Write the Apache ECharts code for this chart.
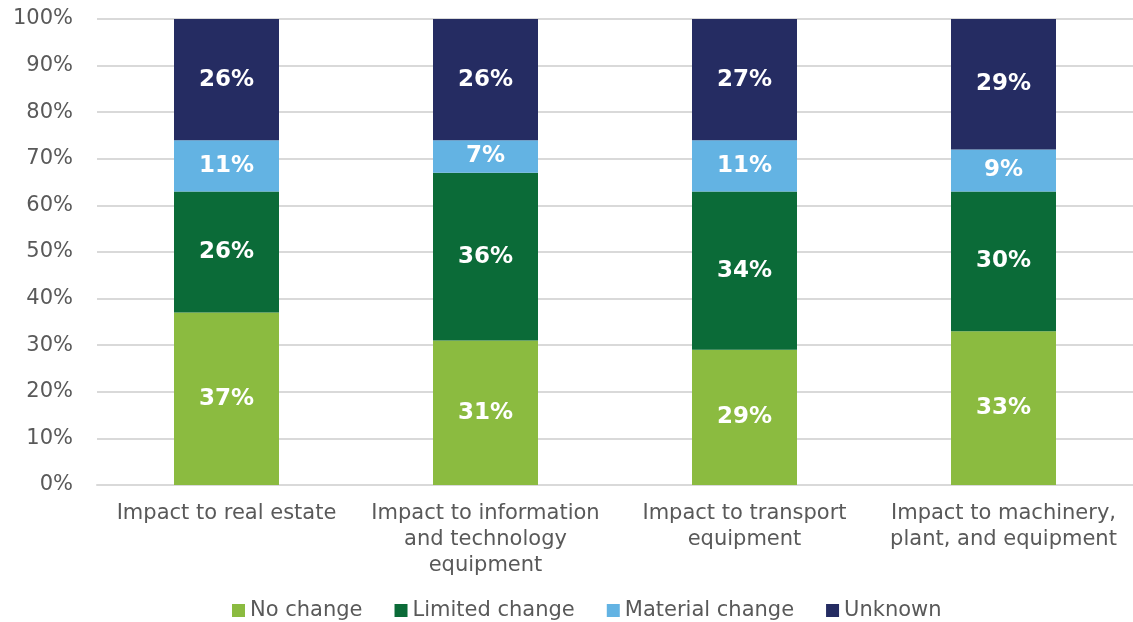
<!DOCTYPE html>
<html>
<head>
<meta charset="utf-8">
<script src="https://cdn.jsdelivr.net/npm/echarts@6/dist/echarts.min.js"></script>
<style>
  html, body { margin: 0; padding: 0; background: #fff; }
  #chart { width: 1133px; height: 622px; }
</style>
</head>
<body>
<div id="chart"></div>
<script>
// Asset categories (x axis)
const categories = [
  'Impact to real estate',
  'Impact to information\nand technology\nequipment',
  'Impact to transport\nequipment',
  'Impact to machinery,\nplant, and equipment'
];
// Share of respondents per impact level, in percent
const noChange = [37, 31, 29, 33];
const limitedChange = [26, 36, 34, 30];
const materialChange = [11, 7, 11, 9];
const unknown = [26, 26, 27, 29];

const seriesNames = ['No change', 'Limited change', 'Material change', 'Unknown'];
const seriesData = [noChange, limitedChange, materialChange, unknown];
const colors = ['#8BBB40', '#0B6B38', '#63B3E3', '#252C62'];

const font = '"DejaVu Sans", Verdana, sans-serif';

const chart = echarts.init(document.getElementById('chart'), null, { renderer: 'canvas' });
chart.setOption({
  animation: false,
  textStyle: { fontFamily: font },
  color: colors,
  grid: { left: 97, right: -13, top: 19, bottom: 137, containLabel: false },
  legend: {
    top: 595,
    left: 227,
    itemWidth: 13,
    itemHeight: 13,
    itemGap: 32,
    icon: 'rect',
    textStyle: { fontFamily: font, fontSize: 21, color: '#595959', padding: [0, 0, 0, 0] },
    data: seriesNames
  },
  xAxis: {
    type: 'category',
    data: categories,
    axisLine: { lineStyle: { color: '#D9D9D9', width: 2 } },
    axisTick: { show: false },
    axisLabel: {
      fontFamily: font, fontSize: 21, color: '#595959',
      lineHeight: 26, margin: 16, interval: 0
    }
  },
  yAxis: {
    type: 'value',
    min: 0, max: 100, interval: 10,
    axisLine: { show: false },
    axisTick: { show: false },
    splitLine: { lineStyle: { color: '#D9D9D9', width: 2 } },
    axisLabel: {
      fontFamily: font, fontSize: 21, color: '#595959', margin: 24,
      formatter: v => v + '%'
    }
  },
  series: seriesData.map((d, i) => ({
    name: seriesNames[i],
    type: 'bar',
    stack: 'total',
    barWidth: 105,
    clip: true,
    data: d,
    itemStyle: { color: colors[i] },
    label: {
      show: true,
      position: 'inside',
      color: '#fff',
      fontFamily: font,
      fontWeight: 'bold',
      fontSize: 23,
      formatter: p => p.value + '%'
    }
  }))
});
</script>
</body>
</html>
